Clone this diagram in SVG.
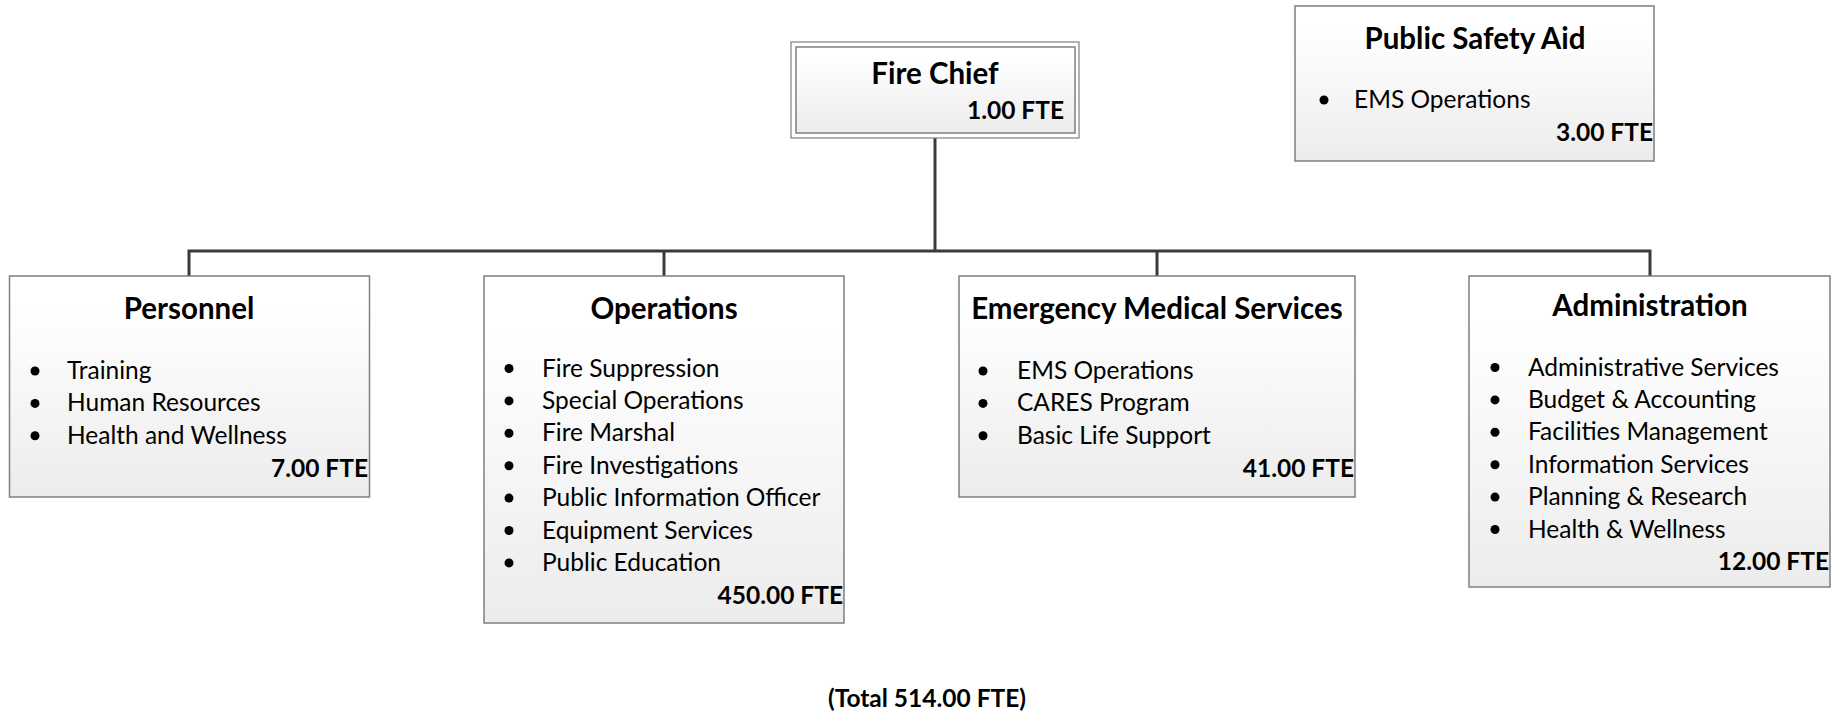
<svg xmlns="http://www.w3.org/2000/svg" width="1844" height="713" viewBox="0 0 1844 713">
<defs>
<linearGradient id="g" x1="0" y1="0" x2="0" y2="1">
<stop offset="0" stop-color="#ffffff"/>
<stop offset="0.15" stop-color="#ffffff"/>
<stop offset="1" stop-color="#ececec"/>
</linearGradient>
<style>
.box{fill:url(#g);stroke:#7f7f7f;stroke-width:1.5}
.obox{fill:#ffffff;stroke:#7f7f7f;stroke-width:1.2}
.title{font-family:Lato,"Liberation Sans",sans-serif;font-weight:bold;font-size:29.5px;fill:#000;text-anchor:middle}
.item{font-family:Lato,"Liberation Sans",sans-serif;font-size:24.5px;fill:#000}
.fte{font-family:Lato,"Liberation Sans",sans-serif;font-weight:bold;font-size:24.5px;fill:#000;text-anchor:end}
.dot{fill:#000}
.conn{fill:none;stroke:#3a3a3a;stroke-width:3}
</style>
</defs>
<rect width="1844" height="713" fill="#ffffff"/>

<g id="connectors">
<path class="conn" d="M935 138 V251"/>
<path class="conn" d="M189 276 V251 H1650 V276"/>
<path class="conn" d="M664 251 V276"/>
<path class="conn" d="M1157 251 V276"/>
</g>

<g id="fire-chief">
<rect class="obox" x="791" y="42" width="288" height="96"/>
<rect class="box" x="796" y="47" width="279" height="86"/>
<text class="title" x="935" y="84">Fire Chief</text>
<text class="fte" x="1064" y="119">1.00 FTE</text>
</g>

<g id="public-safety-aid">
<rect class="box" x="1295" y="6" width="359" height="155"/>
<text class="title" x="1475" y="49">Public Safety Aid</text>
<circle class="dot" cx="1324" cy="100" r="4.5"/>
<text class="item" x="1354" y="108">EMS Operations</text>
<text class="fte" x="1653" y="141">3.00 FTE</text>
</g>

<g id="personnel">
<rect class="box" x="9.5" y="276" width="360" height="221"/>
<text class="title" x="189" y="319">Personnel</text>
<circle class="dot" cx="35" cy="371" r="4.5"/>
<text class="item" x="67" y="379">Training</text>
<circle class="dot" cx="35" cy="403.4" r="4.5"/>
<text class="item" x="67" y="411.4">Human Resources</text>
<circle class="dot" cx="35" cy="435.8" r="4.5"/>
<text class="item" x="67" y="443.8">Health and Wellness</text>
<text class="fte" x="368" y="476.5">7.00 FTE</text>
</g>

<g id="operations">
<rect class="box" x="484" y="276" width="360" height="347"/>
<text class="title" x="664" y="319">Operations</text>
<circle class="dot" cx="509" cy="368.5" r="4.5"/>
<text class="item" x="542" y="376.5">Fire Suppression</text>
<circle class="dot" cx="509" cy="400.9" r="4.5"/>
<text class="item" x="542" y="408.9">Special Operations</text>
<circle class="dot" cx="509" cy="433.3" r="4.5"/>
<text class="item" x="542" y="441.3">Fire Marshal</text>
<circle class="dot" cx="509" cy="465.7" r="4.5"/>
<text class="item" x="542" y="473.7">Fire Investigations</text>
<circle class="dot" cx="509" cy="498.1" r="4.5"/>
<text class="item" x="542" y="506.1">Public Information Officer</text>
<circle class="dot" cx="509" cy="530.5" r="4.5"/>
<text class="item" x="542" y="538.5">Equipment Services</text>
<circle class="dot" cx="509" cy="562.9" r="4.5"/>
<text class="item" x="542" y="570.9">Public Education</text>
<text class="fte" x="843" y="603.5">450.00 FTE</text>
</g>

<g id="ems">
<rect class="box" x="959" y="276" width="396" height="221"/>
<text class="title" x="1157" y="319">Emergency Medical Services</text>
<circle class="dot" cx="983" cy="371" r="4.5"/>
<text class="item" x="1017" y="379">EMS Operations</text>
<circle class="dot" cx="983" cy="403.4" r="4.5"/>
<text class="item" x="1017" y="411.4">CARES Program</text>
<circle class="dot" cx="983" cy="435.8" r="4.5"/>
<text class="item" x="1017" y="443.8">Basic Life Support</text>
<text class="fte" x="1354" y="476.5">41.00 FTE</text>
</g>

<g id="administration">
<rect class="box" x="1469" y="276" width="361" height="311"/>
<text class="title" x="1650" y="316">Administration</text>
<circle class="dot" cx="1495" cy="367.5" r="4.5"/>
<text class="item" x="1528" y="375.5">Administrative Services</text>
<circle class="dot" cx="1495" cy="399.9" r="4.5"/>
<text class="item" x="1528" y="407.9">Budget &amp; Accounting</text>
<circle class="dot" cx="1495" cy="432.3" r="4.5"/>
<text class="item" x="1528" y="440.3">Facilities Management</text>
<circle class="dot" cx="1495" cy="464.7" r="4.5"/>
<text class="item" x="1528" y="472.7">Information Services</text>
<circle class="dot" cx="1495" cy="497.1" r="4.5"/>
<text class="item" x="1528" y="505.1">Planning &amp; Research</text>
<circle class="dot" cx="1495" cy="529.5" r="4.5"/>
<text class="item" x="1528" y="537.5">Health &amp; Wellness</text>
<text class="fte" x="1829" y="569.5">12.00 FTE</text>
</g>

<g id="total">
<text class="fte" x="927" y="707" style="text-anchor:middle">(Total 514.00 FTE)</text>
</g>
</svg>
